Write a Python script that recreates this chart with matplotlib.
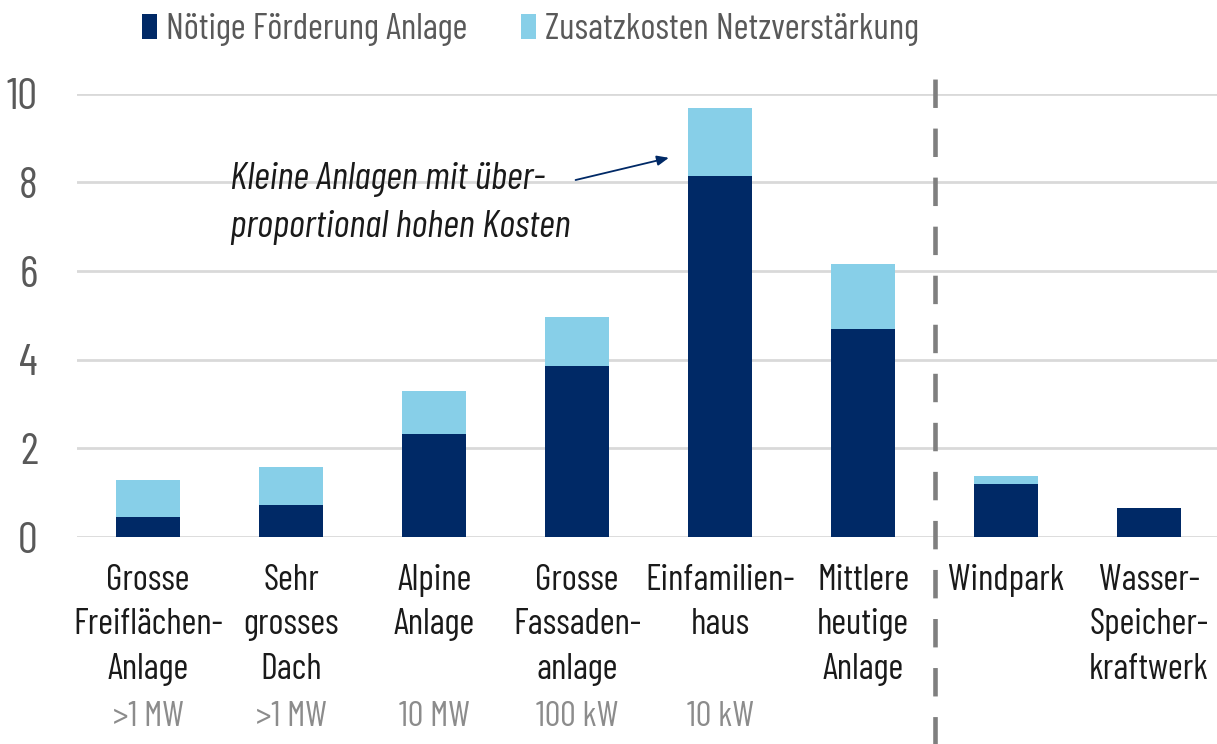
import matplotlib
matplotlib.use('Agg')
import matplotlib.pyplot as plt
from matplotlib import font_manager
from matplotlib.lines import Line2D
import numpy as np

# schmale Schrift suchen, sonst Roboto
vorhanden = {f.name for f in font_manager.fontManager.ttflist}
kandidaten = ['Barlow Condensed', 'Saira Condensed', 'Roboto Condensed',
              'Titillium Web', 'Roboto']
schrift = next((k for k in kandidaten if k in vorhanden), 'DejaVu Sans')
plt.rcParams['font.family'] = [schrift, 'DejaVu Sans']

# Daten
kategorien = ["Grosse\nFreiflächen-\nAnlage", "Sehr\ngrosses\nDach", "Alpine\nAnlage",
              "Grosse\nFassaden-\nanlage", "Einfamilien-\nhaus", "Mittlere\nheutige\nAnlage",
              "Windpark", "Wasser-\nSpeicher-\nkraftwerk"]
leistung = [">1 MW", ">1 MW", "10 MW", "100 kW", "10 kW", "", "", ""]
foerderung = [0.46, 0.72, 2.33, 3.86, 8.15, 4.70, 1.19, 0.66]
netz = [0.83, 0.86, 0.96, 1.10, 1.52, 1.46, 0.18, 0.0]
y_ticks = [0, 2, 4, 6, 8, 10]

dunkel = '#002966'
hell = '#87cfe8'

fig = plt.figure(figsize=(12.17, 7.44), dpi=100)
ax = fig.add_axes([0.063, 0.278, 0.94, 0.596])

x = np.arange(len(kategorien))
ax.bar(x, foerderung, width=0.45, color=dunkel, label='Nötige Förderung Anlage', zorder=3)
ax.bar(x, netz, width=0.45, bottom=foerderung, color=hell,
       label='Zusatzkosten Netzverstärkung', zorder=3)

ax.set_xlim(-0.5, len(kategorien) - 0.5)
ax.set_ylim(0, 10)
ax.set_yticks(y_ticks)
ax.tick_params(axis='y', length=0, pad=28, labelsize=32, labelcolor='#595959')
ax.set_xticks([])
ax.grid(axis='y', color='#d9d9d9', linewidth=2, zorder=0)
for s in ax.spines.values():
    s.set_visible(False)

# Kategorien und Leistungsangaben unter der Achse
for i, (k, l) in enumerate(zip(kategorien, leistung)):
    ax.text(i, -0.6, k, ha='center', va='top', fontsize=26, color='#1a1a1a',
            linespacing=1.44)
    if l:
        ax.text(i, -4.05, l, ha='center', va='center', fontsize=25, color='#8c8c8c')

# gestrichelte Trennlinie
trenner = Line2D([5.5, 5.5], [-4.8, 10.55], color='#7f7f7f', linewidth=3.3,
                 linestyle=(0, (6.2, 4.5)), clip_on=False, zorder=4)
ax.add_line(trenner)

# Kommentar mit Pfeil
ax.annotate('', xy=(3.66, 8.57), xytext=(2.97, 8.04),
            arrowprops=dict(arrowstyle='-|>,head_length=0.7,head_width=0.3',
                            color=dunkel, linewidth=1.3))
ax.text(0.57, 8.47, 'Kleine Anlagen mit über-\nproportional hohen Kosten',
        ha='left', va='top', fontsize=28, style='italic', color='#1a1a1a',
        linespacing=1.5)

fig.legend(loc='center', bbox_to_anchor=(0.436, 0.96), ncol=2, frameon=False,
           fontsize=26, handlelength=0.4, handleheight=0.7, handletextpad=0.25,
           columnspacing=1.5, labelcolor='#595959')

fig.savefig('out.png', dpi=100)
